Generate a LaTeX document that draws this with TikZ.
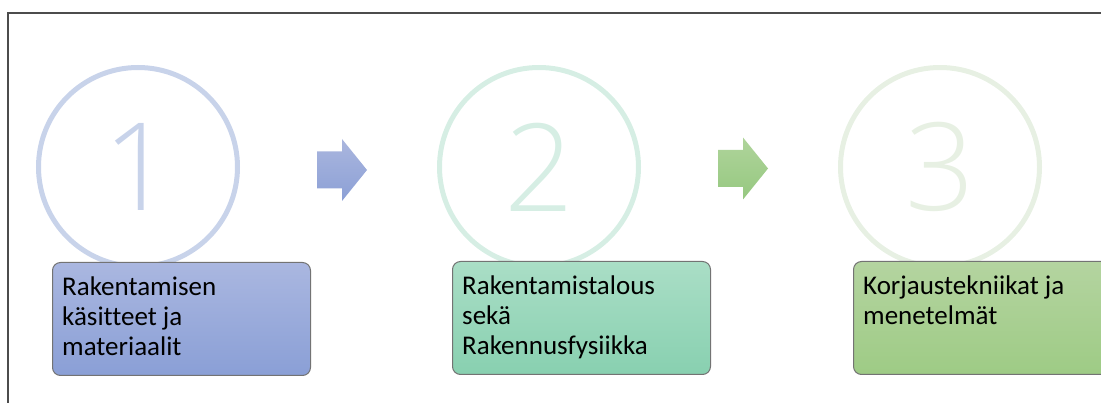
\documentclass[tikz,border=0pt]{standalone}
\usepackage{fontspec}
\setmainfont{Carlito}[Ligatures={NoCommon}]
\newfontfamily\numfont{Open Sans}[UprightFont={* Light}]
\usetikzlibrary{positioning}
\definecolor{ring1}{RGB}{200,211,234}
\definecolor{ring2}{RGB}{214,238,228}
\definecolor{ring3}{RGB}{231,240,227}
\definecolor{boxtop1}{RGB}{170,183,224}
\definecolor{boxbot1}{RGB}{138,159,214}
\definecolor{boxtop2}{RGB}{170,222,198}
\definecolor{boxbot2}{RGB}{136,208,176}
\definecolor{boxtop3}{RGB}{180,212,160}
\definecolor{boxbot3}{RGB}{158,203,133}
\definecolor{arrtop1}{RGB}{170,182,222}
\definecolor{arrbot1}{RGB}{140,160,214}
\definecolor{arrtop2}{RGB}{175,212,155}
\definecolor{arrbot2}{RGB}{150,200,128}
\tikzset{
    ring/.style={circle, line width=5pt, minimum size=199pt, inner sep=0pt, font=\numfont\fontsize{122}{122}\selectfont},
    stepbox/.style={rectangle, rounded corners=8pt, draw=black!55, line width=1pt, minimum width=258pt, minimum height=113pt, anchor=north west},
    boxtext/.style={anchor=north west, inner sep=0pt, align=left, font=\fontsize{27}{30}\selectfont}
}

\begin{document}
\begin{tikzpicture}[x=1pt, y=-1pt]
    \useasboundingbox (0,0) rectangle (1101,403);
    \clip (0,0) rectangle (1101,403);

    % frame
    \draw[line width=1.5pt, black!70] (8,403) -- (8,13) -- (1101,13);

    % numbered rings
    \foreach \i/\cx in {1/138, 2/539, 3/940} {
        \node[ring, draw=ring\i, text=ring\i] (c\i) at (\cx,167) {\i};
    }

    % block arrows
    \foreach \i/\ax/\ay in {1/317/170, 2/718/168.5} {
        \shade[top color=arrtop\i, bottom color=arrbot\i] (\ax,\ay-18.5) -- ++(25,0) -- ++(0,-12.5) -- ++(25,31) -- ++(-25,31) -- ++(0,-12.5) -- ++(-25,0) -- cycle;
    }

    % text boxes
    \foreach \i/\bx/\by in {1/52/262, 2/452/261, 3/853/261} {
        \node[stepbox, top color=boxtop\i, bottom color=boxbot\i] (b\i) at (\bx,\by) {};
    }

    \node[boxtext] (t1) at ([xshift=10pt,yshift=-12.5pt]b1.north west) {\strut Rakentamisen\\käsitteet ja\\materiaalit};
    \node[boxtext] (t2) at ([xshift=10pt,yshift=-12.5pt]b2.north west) {\strut Rakentamistalous\\sekä\\Rakennusfysiikka};
    \node[boxtext] (t3) at ([xshift=10pt,yshift=-12.5pt]b3.north west) {\strut Korjaustekniikat ja\\menetelmät};
\end{tikzpicture}
\end{document}
